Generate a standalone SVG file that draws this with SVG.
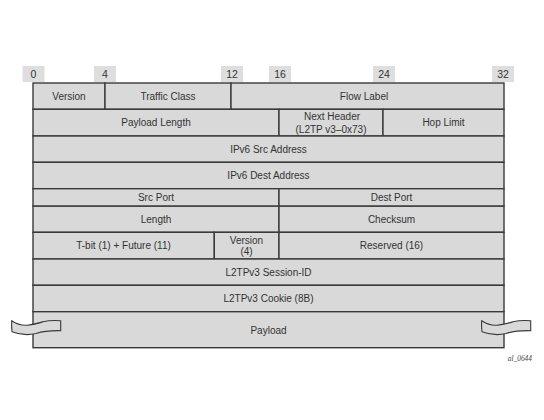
<svg xmlns="http://www.w3.org/2000/svg" width="544" height="420" viewBox="0 0 544 420">
<style>
.cell{fill:#d9d9d9;stroke:#3a3a3a;stroke-width:1.4}
.tag{fill:#dedede}
.t{font-family:"Liberation Sans",Arial,sans-serif;font-size:10px;fill:#333;text-anchor:middle}
.n{font-family:"Liberation Sans",Arial,sans-serif;font-size:10.5px;fill:#333;text-anchor:middle}
.brk{fill:#d9d9d9;stroke:#3a3a3a;stroke-width:1.1}
.id{font-family:"Liberation Serif","Times New Roman",serif;font-style:italic;font-size:7.4px;fill:#444;text-anchor:end}
</style>
<rect width="544" height="420" fill="#fff"/>
<g id="bit-scale">
<rect class="tag" x="22.5" y="66" width="22" height="16"/><text class="n" x="33.5" y="78">0</text>
<rect class="tag" x="94" y="66" width="22" height="16"/><text class="n" x="105" y="78">4</text>
<rect class="tag" x="221" y="66" width="22" height="16"/><text class="n" x="232" y="78">12</text>
<rect class="tag" x="269" y="66" width="22" height="16"/><text class="n" x="280" y="78">16</text>
<rect class="tag" x="373" y="66" width="22" height="16"/><text class="n" x="384" y="78">24</text>
<rect class="tag" x="492" y="66" width="22" height="16"/><text class="n" x="503" y="78">32</text>
</g>
<g id="version"><rect class="cell" x="33" y="83" width="72" height="26.3"/><text class="t" x="69" y="99.5">Version</text></g>
<g id="traffic-class"><rect class="cell" x="105" y="83" width="126" height="26.3"/><text class="t" x="168" y="99.5">Traffic Class</text></g>
<g id="flow-label"><rect class="cell" x="231" y="83" width="273" height="26.3"/><text class="t" x="364" y="99.5">Flow Label</text></g>
<g id="payload-length"><rect class="cell" x="33" y="109.3" width="246" height="26.7"/><text class="t" x="156" y="126">Payload Length</text></g>
<g id="next-header"><rect class="cell" x="279" y="109.3" width="104" height="26.7"/><text class="t" x="332" y="120.3">Next Header</text><text class="t" x="331" y="132.6">(L2TP v3–0x73)</text></g>
<g id="hop-limit"><rect class="cell" x="383" y="109.3" width="121" height="26.7"/><text class="t" x="443.5" y="126">Hop Limit</text></g>
<g id="ipv6-src"><rect class="cell" x="33" y="136" width="471" height="26.3"/><text class="t" x="268.5" y="152.5">IPv6 Src Address</text></g>
<g id="ipv6-dest"><rect class="cell" x="33" y="162.3" width="471" height="26.4"/><text class="t" x="268.5" y="179">IPv6 Dest Address</text></g>
<g id="src-port"><rect class="cell" x="33" y="188.7" width="246" height="17.5"/><text class="t" x="156" y="201">Src Port</text></g>
<g id="dest-port"><rect class="cell" x="279" y="188.7" width="225" height="17.5"/><text class="t" x="391.5" y="201">Dest Port</text></g>
<g id="length"><rect class="cell" x="33" y="206.2" width="246" height="26.1"/><text class="t" x="156" y="222.5">Length</text></g>
<g id="checksum"><rect class="cell" x="279" y="206.2" width="225" height="26.1"/><text class="t" x="391.5" y="222.5">Checksum</text></g>
<g id="t-bit"><rect class="cell" x="33" y="232.3" width="181.3" height="26.7"/><text class="t" x="123.5" y="249">T-bit (1) + Future (11)</text></g>
<g id="l2tp-version"><rect class="cell" x="214.3" y="232.3" width="64.7" height="26.7"/><text class="t" x="246.5" y="243.5">Version</text><text class="t" x="246.5" y="255">(4)</text></g>
<g id="reserved"><rect class="cell" x="279" y="232.3" width="225" height="26.7"/><text class="t" x="391.5" y="249">Reserved (16)</text></g>
<g id="session-id"><rect class="cell" x="33" y="259" width="471" height="26.3"/><text class="t" x="268.5" y="275.5">L2TPv3 Session-ID</text></g>
<g id="cookie"><rect class="cell" x="33" y="285.3" width="471" height="26.4"/><text class="t" x="268.5" y="302">L2TPv3 Cookie (8B)</text></g>
<g id="payload"><rect class="cell" x="33" y="311.7" width="471" height="36"/><text class="t" x="268.5" y="333.5">Payload</text>
<path class="brk" d="M11.7,320.7 C22,328 32,325 43,321.8 C50,320 56,320.3 60.7,320.7 L60.7,330.7 C52,330.5 44,331 36,333.5 C26,336 18,334 12,331.7 C11.5,328 11.5,324 11.7,320.7 Z"/>
<path class="brk" d="M481.7,320.7 C492,328 502,325 513,321.8 C520,320 526,320.3 530.7,320.7 L530.7,330.7 C522,330.5 514,331 506,333.5 C496,336 488,334 482,331.7 C481.5,328 481.5,324 481.7,320.7 Z"/>
</g>
<text class="id" x="532" y="360.5">al_0644</text>
</svg>
